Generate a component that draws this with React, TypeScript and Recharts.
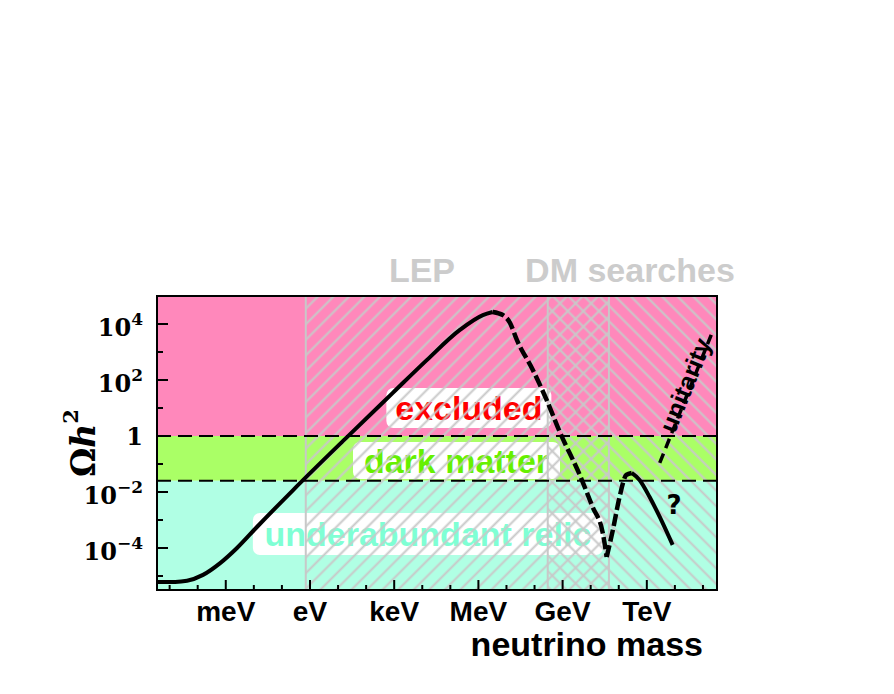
import React from 'react';
import { ComposedChart, Line, XAxis, YAxis, ReferenceArea, ReferenceLine, ReferenceDot } from 'recharts';

// x: log10(neutrino mass / eV), y: log10(Omega h^2)
const X_MIN = -5.45;
const X_MAX = 14.5;
const Y_MIN = -5.5;
const Y_MAX = 5;

const massTicks = [-5, -4, -3, -2, -1, 0, 1, 2, 3, 4, 5, 6, 7, 8, 9, 10, 11, 12, 13, 14];
const massTickValues = [-3, 0, 3, 6, 9, 12];
const massTickNames = ['meV', 'eV', 'keV', 'MeV', 'GeV', 'TeV'];

const omegaTicks = [-5, -4, -3, -2, -1, 0, 1, 2, 3, 4];
const omegaMajorTicks = [-4, -2, 0, 2, 4];

// dark matter band edges
const darkMatterLow = -1.6;
const darkMatterHigh = 0;

// hatched search regions
const lepRange = [-0.15, 10.65];
const dmSearchRange = [8.47, X_MAX];

const relicSolid = [
  { x: -5.45, y: -5.21 },
  { x: -4.8, y: -5.21 },
  { x: -4.38, y: -5.17 },
  { x: -3.81, y: -4.96 },
  { x: -3.2, y: -4.54 },
  { x: -2.6, y: -4.0 },
  { x: -1.89, y: -3.25 },
  { x: -0.6, y: -1.93 },
  { x: 1.32, y: -0.04 },
  { x: 2.95, y: 1.54 },
  { x: 4.16, y: 2.71 },
  { x: 5.34, y: 3.79 },
  { x: 6.16, y: 4.32 },
  { x: 6.51, y: 4.43 },
];

const relicDashedFall = [
  { x: 6.51, y: 4.43 },
  { x: 6.87, y: 4.32 },
  { x: 7.12, y: 4.05 },
  { x: 7.37, y: 3.43 },
  { x: 7.94, y: 2.36 },
  { x: 8.43, y: 1.29 },
  { x: 8.9, y: 0.14 },
  { x: 9.61, y: -1.39 },
  { x: 10.07, y: -2.54 },
  { x: 10.43, y: -3.46 },
  { x: 10.57, y: -4.32 },
];

const relicDashedRise = [
  { x: 10.57, y: -4.32 },
  { x: 10.79, y: -3.36 },
  { x: 11.03, y: -2.17 },
  { x: 11.27, y: -1.39 },
  { x: 11.46, y: -1.32 },
];

const relicTail = [
  { x: 11.46, y: -1.32 },
  { x: 11.74, y: -1.57 },
  { x: 12.1, y: -2.18 },
  { x: 12.46, y: -2.89 },
  { x: 12.92, y: -3.89 },
];

const unitarityBound = [
  { x: 12.46, y: -0.96 },
  { x: 14.35, y: 3.75 },
];

const regionLabels = [
  { text: 'excluded', x: 5.66, y: 1.0 },
  { text: 'dark matter', x: 5.22, y: -0.875 },
  { text: 'underabundant relic', x: 4.2, y: -3.5 },
];

const searchLabels = [
  { text: 'LEP', x: 3.99, y: 5.5 },
  { text: 'DM searches', x: 11.4, y: 5.5 },
];

const regionStyle: Record<string, { color: string; w: number; h: number }> = {
  excluded: { color: '#ff0000', w: 165, h: 40 },
  'dark matter': { color: '#66f000', w: 207, h: 37 },
  'underabundant relic': { color: '#7fffd4', w: 350, h: 42 },
};

const SANS = '"Liberation Sans", Arial, Helvetica, sans-serif';
const SERIF = '"DejaVu Serif", serif';
const HATCH = '#c8c8c8';

const MassTick = (props: any) => {
  const { x, y, payload } = props;
  const i = massTickValues.indexOf(payload.value);
  const len = i >= 0 ? 10 : 5;
  return (
    <g>
      <line x1={x} x2={x} y1={y} y2={y - len} stroke="#000" strokeWidth={2} />
      {i >= 0 && (
        <text x={x} y={y + 31} textAnchor="middle" fontFamily={SANS} fontWeight="bold" fontSize={28} fill="#000">
          {massTickNames[i]}
        </text>
      )}
    </g>
  );
};

const OmegaTick = (props: any) => {
  const { x, y, payload } = props;
  const v = payload.value;
  const major = omegaMajorTicks.includes(v);
  return (
    <g>
      <line x1={x} x2={x + (major ? 11 : 6)} y1={y} y2={y} stroke="#000" strokeWidth={2} />
      {major && (
        <text x={x - 14} y={y + (v === 0 ? 9 : 12)} textAnchor="end" fontFamily={SERIF} fontWeight="bold" fontSize={24} fill="#000">
          {v === 0 ? '1' : (
            <>
              10
              <tspan dy={-11} fontSize={17}>{v < 0 ? '\u2212' : ''}{Math.abs(v)}</tspan>
            </>
          )}
        </text>
      )}
    </g>
  );
};

const OmegaLabel = (props: any) => {
  const vb = props.viewBox;
  const cx = vb.x - 14;
  const cy = vb.y + vb.height / 2;
  return (
    <text x={cx} y={cy} transform={`rotate(-90 ${cx} ${cy})`} textAnchor="middle" dominantBaseline="central"
      fontFamily={SERIF} fontWeight="bold" fontSize={33} fill="#000">
      {'\u03A9'}<tspan fontStyle="italic">h</tspan><tspan dy={-13} fontSize={21}>2</tspan>
    </text>
  );
};

const MassLabel = (props: any) => {
  const vb = props.viewBox;
  return (
    <text x={vb.x + vb.width - 14} y={vb.y + 66} textAnchor="end" fontFamily={SANS} fontWeight="bold" fontSize={34} fill="#000">
      neutrino mass
    </text>
  );
};

const RegionBox = (text: string) => (props: any) => {
  const { cx, cy } = props;
  const s = regionStyle[text];
  return (
    <g>
      <rect x={cx - s.w / 2} y={cy - s.h / 2} width={s.w} height={s.h} rx={7} fill="#fff" />
      <text x={cx} y={cy + 12} textAnchor="middle" fontFamily={SANS} fontWeight="bold" fontSize={34} fill={s.color}>
        {text}
      </text>
    </g>
  );
};

const SearchLabel = (text: string) => (props: any) => (
  <text x={props.cx} y={props.cy} textAnchor="middle" fontFamily={SANS} fontWeight="bold" fontSize={34} fill="#cccccc">
    {text}
  </text>
);

const UnitarityText = (props: any) => (
  <text x={props.cx} y={props.cy} transform={`rotate(-68 ${props.cx} ${props.cy})`} textAnchor="middle" dominantBaseline="central"
    fontFamily={SANS} fontWeight="bold" fontSize={25} fill="#000">
    unitarity
  </text>
);

const QuestionMark = (props: any) => (
  <text x={props.cx} y={props.cy} textAnchor="middle" dominantBaseline="central" fontFamily='"DejaVu Sans", sans-serif'
    fontWeight="bold" fontSize={26} fill="#000">
    ?
  </text>
);

export default function App() {
  return (
    <div style={{ position: 'absolute', left: 0, top: 0, background: '#fff' }}>
      <ComposedChart width={894} height={694} margin={{ top: 296, right: 177, bottom: 64, left: 97 }}>
        <defs>
          <pattern id="hatchFwd" patternUnits="userSpaceOnUse" width={11} height={11} patternTransform="rotate(45)">
            <line x1={5.5} y1={0} x2={5.5} y2={11} stroke={HATCH} strokeWidth={2} />
          </pattern>
          <pattern id="hatchBack" patternUnits="userSpaceOnUse" width={11} height={11} patternTransform="rotate(-45)">
            <line x1={5.5} y1={0} x2={5.5} y2={11} stroke={HATCH} strokeWidth={2} />
          </pattern>
        </defs>
        <XAxis dataKey="x" type="number" domain={[X_MIN, X_MAX]} allowDataOverflow ticks={massTicks} interval={0}
          tick={<MassTick />} tickLine={false} axisLine={false} tickSize={0} tickMargin={0} height={40} label={<MassLabel />} />
        <YAxis dataKey="y" type="number" domain={[Y_MIN, Y_MAX]} allowDataOverflow ticks={omegaTicks} interval={0}
          tick={<OmegaTick />} tickLine={false} axisLine={false} tickSize={0} tickMargin={0} width={60} label={<OmegaLabel />} />

        <ReferenceArea x1={X_MIN} x2={X_MAX} y1={darkMatterHigh} y2={Y_MAX} fill="#ff88bb" fillOpacity={1} stroke="none" zIndex={10} />
        <ReferenceArea x1={X_MIN} x2={X_MAX} y1={darkMatterLow} y2={darkMatterHigh} fill="#aaff66" fillOpacity={1} stroke="none" zIndex={10} />
        <ReferenceArea x1={X_MIN} x2={X_MAX} y1={Y_MIN} y2={darkMatterLow} fill="#b0ffe4" fillOpacity={1} stroke="none" zIndex={10} />

        {regionLabels.map((r) => (
          <ReferenceDot key={r.text} x={r.x} y={r.y} r={1} shape={RegionBox(r.text)} zIndex={20} />
        ))}

        <ReferenceArea x1={lepRange[0]} x2={lepRange[1]} y1={Y_MIN} y2={Y_MAX} fill="url(#hatchFwd)" fillOpacity={1}
          stroke={HATCH} strokeWidth={2} zIndex={30} />
        <ReferenceArea x1={dmSearchRange[0]} x2={dmSearchRange[1]} y1={Y_MIN} y2={Y_MAX} fill="url(#hatchBack)" fillOpacity={1}
          stroke={HATCH} strokeWidth={2} zIndex={30} />

        <ReferenceLine y={darkMatterHigh} stroke="#000" strokeWidth={2} strokeDasharray="14 7" zIndex={40} />
        <ReferenceLine y={darkMatterLow} stroke="#000" strokeWidth={2} strokeDasharray="14 7" zIndex={40} />

        <Line data={relicSolid} dataKey="y" type="monotone" stroke="#000" strokeWidth={4} dot={false} isAnimationActive={false} />
        <Line data={relicDashedFall} dataKey="y" type="monotone" stroke="#000" strokeWidth={4.5} strokeDasharray="12 4" dot={false} isAnimationActive={false} />
        <Line data={relicDashedRise} dataKey="y" type="monotone" stroke="#000" strokeWidth={4.5} strokeDasharray="12 4" dot={false} isAnimationActive={false} />
        <Line data={relicTail} dataKey="y" type="monotone" stroke="#000" strokeWidth={4} dot={false} isAnimationActive={false} />
        <Line data={unitarityBound} dataKey="y" type="linear" stroke="#000" strokeWidth={3.5} strokeDasharray="10 6" dot={false} isAnimationActive={false} />

        <ReferenceDot x={13.36} y={1.82} r={1} shape={UnitarityText} zIndex={600} />
        <ReferenceDot x={12.97} y={-2.46} r={1} shape={QuestionMark} zIndex={600} />

        <ReferenceArea x1={X_MIN} x2={X_MAX} y1={Y_MIN} y2={Y_MAX} fill="none" stroke="#000" strokeWidth={2} zIndex={700} />

        {searchLabels.map((s) => (
          <ReferenceDot key={s.text} x={s.x} y={s.y} r={1} ifOverflow="visible" shape={SearchLabel(s.text)} zIndex={700} />
        ))}
      </ComposedChart>
    </div>
  );
}
